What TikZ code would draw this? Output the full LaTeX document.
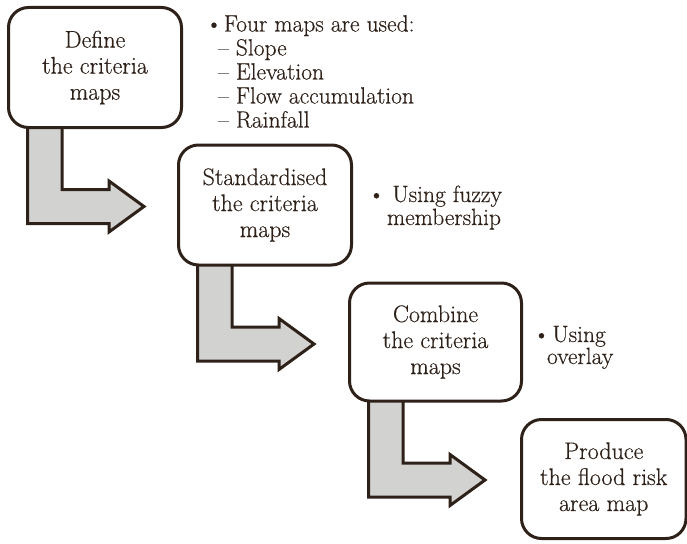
\documentclass[tikz,border=0pt]{standalone}
\usepackage{fontspec}
\setmainfont{Latin Modern Roman}[FakeBold=0.4]
\definecolor{ink}{HTML}{2E2119}
\definecolor{arrowfill}{HTML}{D2D2D0}
\pgfdeclarelayer{background}
\pgfsetlayers{background,main}
\tikzset{
  stepbox/.style={draw=ink, line width=3pt, rounded corners=20pt, fill=white,
    text=ink, align=center, inner sep=0pt, outer sep=0pt,
    font=\fontsize{24}{26}\selectfont},
  blockarrow/.style={draw=ink, line width=3pt, fill=arrowfill, line join=miter},
  note/.style={text=ink, anchor=base west, inner sep=0pt, outer sep=0pt,
    font=\fontsize{23.5}{24}\selectfont}
}
\newcommand{\flowarrow}[1]{%
  \begin{pgfonlayer}{background}
  \draw[blockarrow] ([shift={(19,-5)}]#1.south west) -- ++(0,101) -- ++(81.5,0)
    -- ++(0,8.5) -- ++(35,-25.5) -- ++(-35,-25.5) -- ++(0,8.5) -- ++(-47,0)
    -- ++(0,-67) -- cycle;
  \end{pgfonlayer}}
\begin{document}
\begin{tikzpicture}[x=1pt,y=-1pt]
\useasboundingbox (0,0) rectangle (687,543);
\node[stepbox, minimum width=173pt, minimum height=120pt] (b1) at (95,67.5)
  {Define\\the criteria\\maps};
\node[stepbox, minimum width=173pt, minimum height=120pt] (b2) at (265,205)
  {Standardised\\the criteria\\maps};
\node[stepbox, minimum width=172pt, minimum height=118pt] (b3) at (435.5,342)
  {Combine\\the criteria\\maps};
\node[stepbox, minimum width=164.5pt, minimum height=119pt] (b4) at (603.75,479)
  {Produce\\the flood risk\\area map};
\flowarrow{b1}
\flowarrow{b2}
\flowarrow{b3}
% notes
\node[note] (n1a) at (205.5,31.5) {\textbullet\hspace{1.5pt}Four maps are used:};
\node[note] (n1b) at (218,55.5) {\textendash~Slope};
\node[note] (n1c) at (218,79.5) {\textendash~Elevation};
\node[note] (n1d) at (218,103.5) {\textendash~Flow accumulation};
\node[note] (n1e) at (218,127.5) {\textendash~Rainfall};
\node[note] (n2a) at (368,202) {\textbullet\hspace{7.5pt}Using fuzzy};
\node[note] (n2b) at (387,225) {membership};
\node[note] (n3a) at (533,342) {\textbullet\hspace{2.5pt}Using};
\node[note] (n3b) at (547,364) {overlay};
\end{tikzpicture}
\end{document}
